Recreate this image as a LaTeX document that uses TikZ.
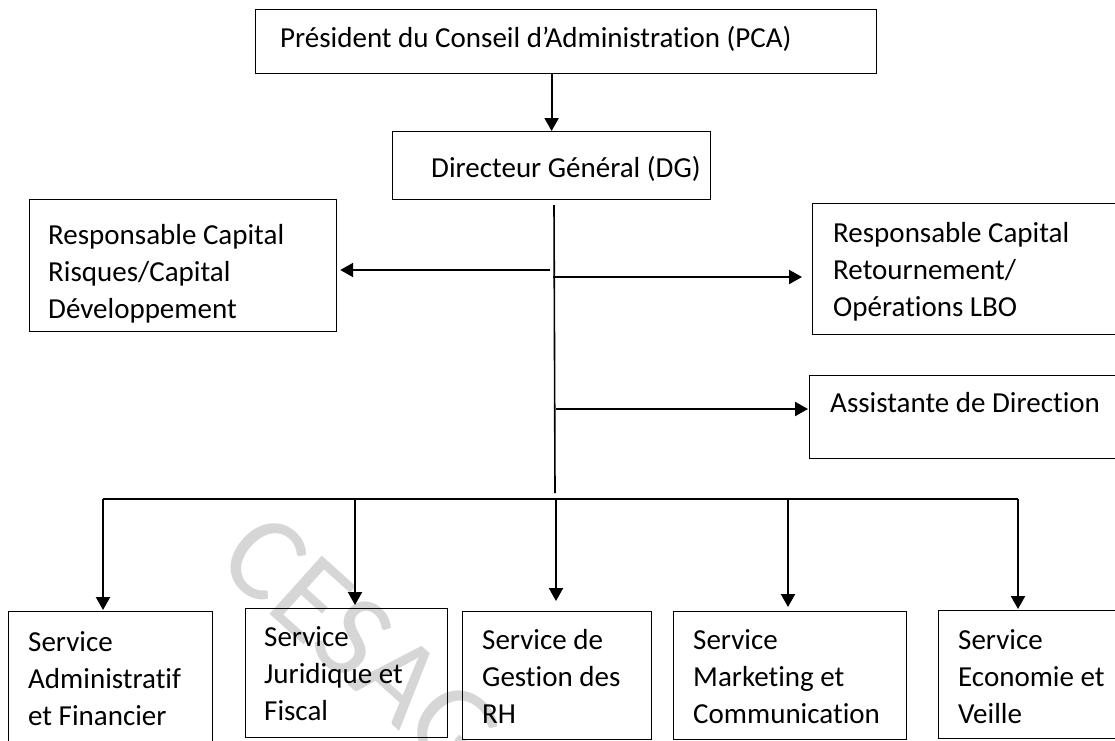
\documentclass[tikz,border=0pt]{standalone}
\usepackage{fontspec}
\setmainfont{Carlito}[Ligatures=NoCommon]
\usetikzlibrary{arrows.meta}
\begin{document}
\begin{tikzpicture}[x=1pt,y=-1pt,
  box/.style={draw, line width=1.2pt, anchor=north west, inner sep=0pt},
  txt/.style={anchor=base west, inner sep=0pt, align=flush left, text width=#1, font=\fontsize{29}{37}\selectfont},
  txt/.default=700pt,
  conn/.style={line width=2.2pt, -{Triangle[length=13pt,width=14pt]}},
  busline/.style={line width=1.8pt},
  trunkline/.style={line width=1.6pt},
  wmark/.style={rotate=-42, text=black!16, inner sep=0pt, font=\fontsize{122}{122}\selectfont}
]
\useasboundingbox (0,0) rectangle (1115,740);
% watermark
\node[wmark] (wm) at (362,645) {CESAG};
% boxes
\node[box, minimum width=621pt, minimum height=64pt] (pca) at (255,9) {};
\node[box, minimum width=318pt, minimum height=68pt] (dg) at (392,131) {};
\node[box, minimum width=307pt, minimum height=132pt] (rcr) at (29,199) {};
\node[box, minimum width=330pt, minimum height=131pt] (rct) at (812,203) {};
\node[box, minimum width=330pt, minimum height=83pt] (asst) at (809,375) {};
\node[box, minimum width=204pt, minimum height=160pt] (s1) at (8,611) {};
\node[box, minimum width=202pt, minimum height=129pt] (s2) at (245,608) {};
\node[box, minimum width=189pt, minimum height=128pt] (s3) at (462,611) {};
\node[box, minimum width=233pt, minimum height=128pt] (s4) at (673,611) {};
\node[box, minimum width=200pt, minimum height=128pt] (s5) at (938,610) {};
% texts
\node[txt] (pca-t) at (280,47) {Président du Conseil d’Administration (PCA)};
\node[txt] (dg-t) at (431,177) {Directeur Général (DG)};
\node[txt] (rcr-t) at (48,244) {Responsable Capital\\Risques/Capital\\Développement};
\node[txt] (rct-t) at (833,242) {Responsable Capital\\Retournement/\\Opérations LBO};
\node[txt] (asst-t) at (830,412) {Assistante de Direction};
\node[txt] (s1-t) at (28,651) {Service\\Administratif\\et Financier};
\node[txt] (s2-t) at (264,646) {Service\\Juridique et\\Fiscal};
\node[txt] (s3-t) at (482,649) {Service de\\Gestion des\\RH};
\node[txt] (s4-t) at (693,649) {Service\\Marketing et\\Communication};
\node[txt] (s5-t) at (958,649) {Service\\Economie et\\Veille};
% connectors
\draw[conn] (dg.north |- pca.south) -- (dg.north);
\coordinate (ttop) at (554,205);
\coordinate (tbot) at (555,493);
\draw[trunkline] (ttop) -- (tbot);
\coordinate (jl) at (550,270);
\draw[conn, shorten >=3pt] (jl) -- (jl -| rcr.east);
\coordinate (jr) at (553,277);
\draw[conn, shorten >=10pt] (jr) -- (jr -| rct.west);
\coordinate (ja) at (556,409);
\draw[conn, shorten >=1pt] (ja) -- (ja -| asst.west);
\coordinate (bl) at (103,499);
\coordinate (br) at (1018,499);
\draw[busline] (bl) -- (br);
\coordinate (b2) at (355,499);
\coordinate (b3) at (556,499);
\coordinate (b4) at (788,499);
\draw[conn, shorten >=1pt] (bl) -- (bl |- s1.north);
\draw[conn, shorten >=3pt] (b2) -- (b2 |- s2.north);
\draw[conn, shorten >=10pt] (b3) -- (b3 |- s3.north);
\draw[conn, shorten >=4pt] (b4) -- (b4 |- s4.north);
\draw[conn, shorten >=1pt] (br) -- (br |- s5.north);
\end{tikzpicture}
\end{document}
